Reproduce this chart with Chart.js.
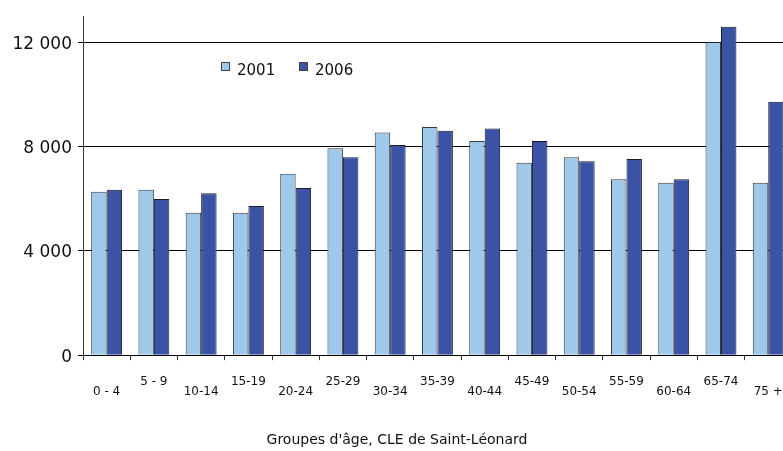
<!DOCTYPE html>
<html>
<head>
<meta charset="utf-8">
<script src="https://cdn.jsdelivr.net/npm/chart.js@4/dist/chart.umd.min.js"></script>
<style>
  html, body { margin: 0; padding: 0; background: #fff; overflow: hidden; }
  canvas { display: block; }
</style>
</head>
<body>
<canvas id="ageChart" width="800" height="451"></canvas>
<script>
const categories = ['0 - 4', '5 - 9', '10-14', '15-19', '20-24', '25-29', '30-34', '35-39',
    '40-44', '45-49', '50-54', '55-59', '60-64', '65-74', '75 +'];
const values2001 = [6270, 6340, 5460, 5460, 6960, 7940, 8540, 8750, 8210, 7380, 7590, 6750, 6610, 12000, 6610];
const values2006 = [6340, 5990, 6210, 5720, 6410, 7590, 8060, 8610, 8690, 8210, 7440, 7520, 6750, 12600, 9720];
const seriesLabels = ['2001', '2006'];
const yTicks = [0, 4000, 8000, 12000];
const yMax = 13000;

const font = 'DejaVu Sans';

// legend sits inside the plot, drawn by hand
const legendInPlot = {
    id: 'legendInPlot',
    afterDraw(chart) {
        const ctx = chart.ctx;
        ctx.save();
        chart.data.datasets.forEach((ds, i) => {
            const x = 221 + i * 78;
            ctx.fillStyle = ds.backgroundColor;
            ctx.fillRect(x, 62, 8, 8);
            ctx.strokeStyle = '#444';
            ctx.lineWidth = 1;
            ctx.strokeRect(x + 0.5, 62.5, 8, 8);
            ctx.fillStyle = '#111';
            ctx.font = '15px "' + font + '"';
            ctx.textBaseline = 'alphabetic';
            ctx.fillText(ds.label, x + 16, 75);
        });
        ctx.restore();
    }
};

const ctx = document.getElementById('ageChart').getContext('2d');
const ageChart = new Chart(ctx, {
    type: 'bar',
    data: {
        labels: categories,
        datasets: [
            {
                label: seriesLabels[0],
                data: values2001,
                backgroundColor: '#9fc9eb',
                borderColor: '#3a3a3a',
                borderWidth: 1,
                categoryPercentage: 0.654,
                barPercentage: 1.0
            },
            {
                label: seriesLabels[1],
                data: values2006,
                backgroundColor: '#3a53a5',
                borderColor: '#1a1a2a',
                borderWidth: 1,
                categoryPercentage: 0.654,
                barPercentage: 1.0
            }
        ]
    },
    options: {
        responsive: false,
        animation: false,
        layout: { padding: { left: 0, right: 6, top: 7, bottom: 0 } },
        plugins: {
            legend: { display: false },
            tooltip: { enabled: false },
            title: {
                display: true,
                position: 'bottom',
                text: "Groupes d'âge, CLE de Saint-Léonard",
                color: '#111',
                font: { family: font, size: 14, weight: 'normal', lineHeight: 1.2 },
                padding: { top: 37, bottom: 2 }
            }
        },
        scales: {
            x: {
                afterFit: (scale) => { scale.height = 40; },
                grid: {
                    display: true,
                    drawOnChartArea: false,
                    drawTicks: true,
                    tickLength: 5,
                    color: '#333',
                    offset: true
                },
                border: { display: true, color: '#000', width: 1 },
                ticks: {
                    autoSkip: false,
                    maxRotation: 0,
                    padding: 17,
                    color: '#111',
                    font: { family: font, size: 12, lineHeight: 0.8 },
                    callback: function (value, index) {
                        const label = this.getLabelForValue(value);
                        return index % 2 === 0 ? ['', label] : label;
                    }
                }
            },
            y: {
                min: 0,
                max: yMax,
                afterFit: (scale) => { scale.width = 83; },
                afterBuildTicks: (scale) => { scale.ticks = yTicks.map(v => ({ value: v })); },
                grid: {
                    color: '#000',
                    lineWidth: 1,
                    drawTicks: true,
                    tickLength: 5
                },
                border: { display: true, color: '#333', width: 1 },
                ticks: {
                    padding: 6,
                    labelOffset: 2,
                    color: '#111',
                    font: { family: font, size: 17 },
                    callback: (v) => String(v).replace(/\B(?=(\d{3})+(?!\d))/g, ' ')
                }
            }
        }
    },
    plugins: [legendInPlot]
});
</script>
</body>
</html>
